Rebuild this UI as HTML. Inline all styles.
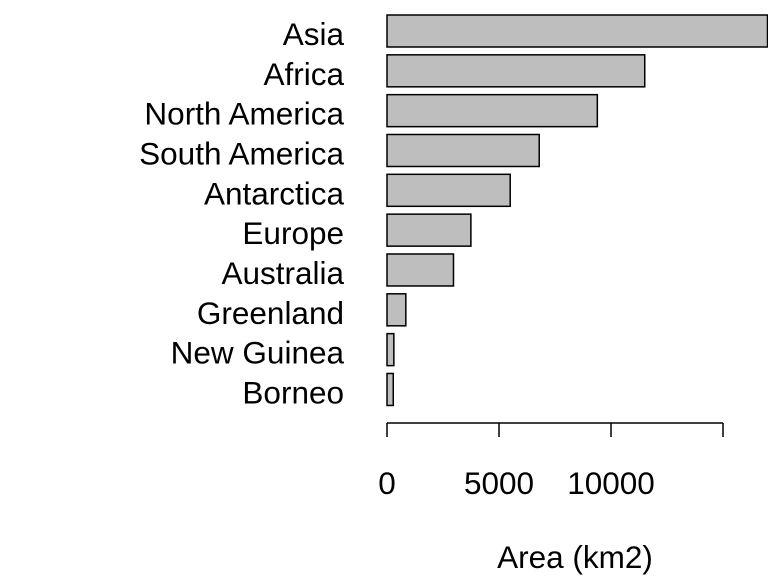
<!DOCTYPE html>
<html><head><meta charset="utf-8"><style>
body{margin:0;background:#fff;}
svg{display:block;font-family:"Liberation Sans",Arial,sans-serif;}
</style></head><body>
<svg id="chart" width="768" height="576"></svg>
<script>
const categories=["Asia","Africa","North America","South America","Antarctica","Europe","Australia","Greenland","New Guinea","Borneo"];
const values=[16988,11506,9390,6795,5500,3745,2968,840,306,280];
const tickValues=[0,5000,10000,15000];
const tickLabels=["0","5000","10000",""];
const ns="http://www.w3.org/2000/svg";
const svg=document.getElementById("chart");
function x(v){return 387+v*0.0224;}
function yTop(i){return 15+i*39.83;}
const bh=32;
function mk(t,a){const e=document.createElementNS(ns,t);for(const k in a)e.setAttribute(k,a[k]);svg.appendChild(e);return e;}
categories.forEach((c,i)=>{
  const r=mk("rect",{x:x(0),y:yTop(i),width:x(values[i])-x(0),height:bh,fill:"#bebebe",stroke:"#000","stroke-width":1.5});
  
  
  const t=mk("text",{x:344,y:yTop(i)+bh/2+14,"text-anchor":"end","font-size":31.5,fill:"#000"});
  t.textContent=c;
  
  
});
const ax=mk("line",{x1:x(0),x2:x(15000),y1:423,y2:423,stroke:"#000","stroke-width":1.5});


tickValues.forEach((v,i)=>{
  const l=mk("line",{x1:x(v),x2:x(v),y1:423,y2:437,stroke:"#000","stroke-width":1.5});
  
  
  const t=mk("text",{x:x(v),y:494,"text-anchor":"middle","font-size":31.5});
  t.textContent=tickLabels[i];
  
  
});
const tt=mk("text",{x:575,y:568,"text-anchor":"middle","font-size":31.5});
tt.textContent="Area (km2)";


</script>
</body></html>
